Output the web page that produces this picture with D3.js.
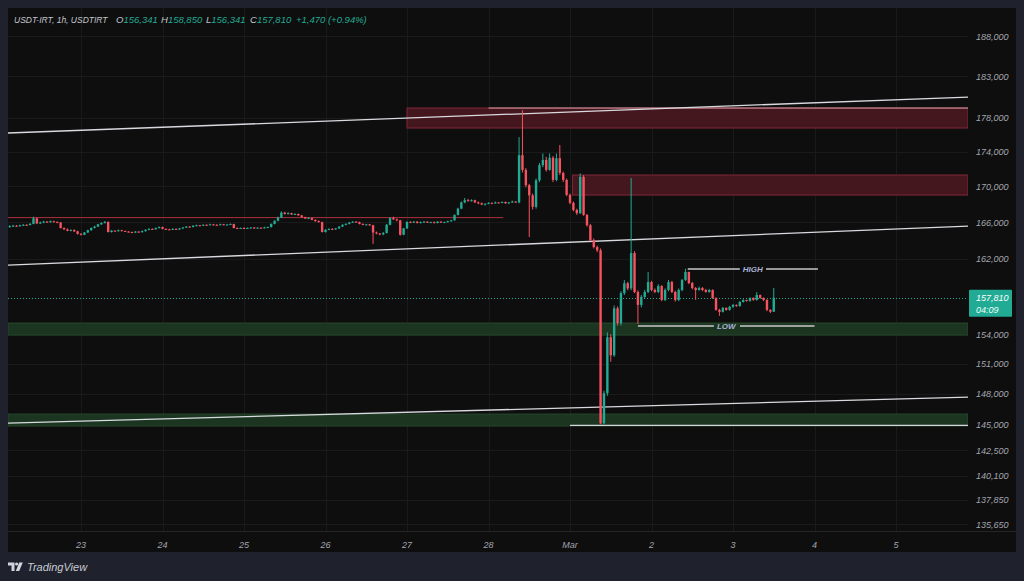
<!DOCTYPE html>
<html><head><meta charset="utf-8">
<script src="https://cdn.jsdelivr.net/npm/d3@7"></script>
<style>
html,body{margin:0;padding:0;background:#1f222c;}
svg{display:block;}
text{font-family:"Liberation Sans",Arial,sans-serif;font-style:italic;}
</style></head><body><svg id="c" width="1024" height="581"></svg>
<script>
// ---------------- DATA ----------------
const symbolTitle = "USDT-IRT, 1h, USDTIRT";
const lastOHLC = {o: "156,341", h: "158,850", l: "156,341", c: "157,810", chg: "+1,470 (+0.94%)"};
const firstCandle = Date.UTC(2025, 1, 22, 3); // hourly candles from here
const viewStart = Date.UTC(2025, 1, 22, 2, 30);
const viewEnd = Date.UTC(2025, 2, 5, 21, 12);
const priceDomain = [135017, 191555];
const priceTicks = [188000,183000,178000,174000,170000,166000,162000,154000,151000,148000,145000,142500,140100,137850,135650];
const dayTicks = ["2025-02-23","2025-02-24","2025-02-25","2025-02-26","2025-02-27","2025-02-28","2025-03-01","2025-03-02","2025-03-03","2025-03-04","2025-03-05"];
const dayLabels = ["23","24","25","26","27","28","Mar","2","3","4","5"];
const lastPrice = 157810;
const countdown = "04:09";

const opens = [165450,165560,165600,165560,165650,165700,165680,165800,166420,165850,
165950,166050,165980,166100,166020,165950,165340,165200,165050,165120,
164980,164700,164600,164850,165100,165350,165500,165750,165900,166020,
164900,165050,165000,165100,165020,164950,164900,164850,164950,164880,
165000,165150,165250,165200,165350,165450,165250,165200,165150,165250,
165180,165300,165400,165500,165450,165600,165650,165600,165700,165680,
165750,165700,165680,165760,165700,165730,165780,165350,165300,165350,
165280,165350,165400,165320,165380,165350,165420,165450,165800,166150,
166500,167050,166900,167000,166850,166900,166750,166550,166400,166450,
166250,166100,166000,164900,165150,165250,165200,165300,165500,165700,
165800,165950,166050,166000,165800,165700,165750,165650,164850,164750,
164650,164800,165700,166450,166300,166200,164600,165300,166000,165950,
166050,165900,166000,166050,165950,166000,165900,166050,165950,166000,
166100,166200,166800,167500,168200,168450,168350,168450,168200,168100,
167950,168050,168150,168100,168200,168150,168250,168100,168200,168300,
168200,173600,171900,170150,169000,167700,170700,172450,173050,171900,
173300,170750,173250,171550,170750,169050,168150,167350,167000,171100,
166800,165650,164000,163250,162900,145100,148050,153700,151850,156700,
155150,158300,159350,158800,162600,158420,157060,157900,158420,159480,
158630,158420,159050,157580,158630,159480,158420,157580,158630,159690,
160550,159370,158840,158630,158840,158630,158420,158630,157790,156535,
156330,156745,156535,156850,157060,156950,157370,157580,157480,157790,
157580,158100,157790,157580,156535,156341];

const highs = [165650,165700,165680,165720,165780,165760,165900,166600,166480,166050,
166150,166120,166180,166160,166080,166000,165420,165300,165200,165200,
165050,164780,164900,165150,165400,165600,165800,165980,166120,166080,
165120,165100,165180,165150,165060,165000,164950,165020,165000,165080,
165200,165320,165300,165400,165520,165500,165300,165250,165320,165300,
165350,165450,165560,165550,165650,165720,165700,165760,165750,165820,
165800,165760,165820,165800,165780,165850,165820,165400,165400,165420,
165400,165450,165450,165420,165420,165480,165500,165850,166200,166600,
167200,167150,167100,167050,166980,166950,166800,166600,166550,166500,
166300,166200,166050,165200,165300,165320,165350,165550,165750,165880,
166000,166100,166120,166050,165850,165800,165800,165700,164950,164800,
164900,165800,166550,166600,166400,166250,165350,166100,166100,166120,
166100,166060,166120,166100,166050,166070,166100,166100,166050,166150,
166250,166850,167600,168300,168700,168600,168550,168500,168300,168200,
168100,168220,168200,168300,168250,168300,168300,168250,168400,168350,
175700,178900,172100,170300,169200,170900,172700,173800,173400,173800,
173500,173800,174780,171700,170900,169200,168300,167500,171500,171300,
166900,165800,164200,163400,163100,148300,154200,154000,157000,156900,
158500,159700,159500,170970,162800,158600,158100,158650,160550,159600,
158800,159250,159150,158800,159700,159600,158550,158800,159800,160900,
160600,159500,158950,159000,158950,158750,158750,158700,157850,156650,
156850,156800,156950,157150,157100,157450,157650,157600,157850,157850,
158400,158150,157850,157650,156600,158850];

const lows = [165380,165480,165500,165500,165600,165600,165620,165750,165780,165800,
165880,165920,165940,165960,165880,165300,165120,164980,164990,164900,
164620,164520,164560,164800,165050,165300,165450,165700,165850,164850,
164850,164950,164950,164980,164900,164850,164780,164800,164820,164850,
164950,165100,165150,165180,165300,165200,165120,165100,165120,165120,
165150,165250,165350,165400,165420,165550,165550,165580,165620,165650,
165650,165620,165650,165650,165660,165700,165300,165250,165240,165220,
165230,165300,165280,165300,165300,165300,165380,165400,165750,166100,
166450,166850,166850,166800,166800,166700,166500,166350,166350,166200,
166050,165950,164850,164850,165100,165150,165150,165250,165450,165650,
165750,165900,165950,165750,165650,165650,165600,163600,164650,164550,
164550,164750,165650,166250,166100,164500,164550,165250,165900,165900,
165850,165850,165950,165900,165900,165850,165850,165900,165900,165950,
166050,166150,166750,167450,168100,168300,168300,168150,168000,167900,
167850,168000,168000,168050,168100,168100,168050,168050,168150,168150,
168100,171600,169900,164350,167400,167500,170500,172200,171700,171800,
170500,170600,171300,170500,168900,168000,167200,166800,166900,166700,
165500,163900,163100,162700,145000,145000,147800,151200,151700,154900,
154900,158100,158600,158600,158300,155080,156800,157700,158300,158500,
158300,158300,157450,157450,158500,158300,157400,157450,158500,159600,
159250,158700,157580,158550,158500,158350,158350,157700,156450,155910,
156250,156450,156450,156750,156850,156850,157300,157400,157400,157500,
157500,157700,157450,156400,156200,156341];

const closes = [165560,165600,165560,165650,165700,165680,165800,166420,165850,165950,
166050,165980,166100,166020,165950,165340,165200,165050,165120,164980,
164700,164600,164850,165100,165350,165500,165750,165900,166020,164900,
165050,165000,165100,165020,164950,164900,164850,164950,164880,165000,
165150,165250,165200,165350,165450,165250,165200,165150,165250,165180,
165300,165400,165500,165450,165600,165650,165600,165700,165680,165750,
165700,165680,165760,165700,165730,165780,165350,165300,165350,165280,
165350,165400,165320,165380,165350,165420,165450,165800,166150,166500,
167050,166900,167000,166850,166900,166750,166550,166400,166450,166250,
166100,166000,164900,165150,165250,165200,165300,165500,165700,165800,
165950,166050,166000,165800,165700,165750,165650,164850,164750,164650,
164800,165700,166450,166300,166200,164600,165300,166000,165950,166050,
165900,166000,166050,165950,166000,165900,166050,165950,166000,166100,
166200,166800,167500,168200,168450,168350,168450,168200,168100,167950,
168050,168150,168100,168200,168150,168250,168100,168200,168300,168200,
173600,171900,170150,169000,167700,170700,172450,173050,171900,173300,
170750,173250,171550,170750,169050,168150,167350,167000,171100,166800,
165650,164000,163250,162900,145100,148050,153700,151850,156700,155150,
158300,159350,158800,162600,158420,157060,157900,158420,159480,158630,
158420,159050,157580,158630,159480,158420,157580,158630,159690,160550,
159370,158840,158630,158840,158630,158420,158630,157790,156535,156330,
156745,156535,156850,157060,156950,157370,157580,157480,157790,157580,
158100,157790,157580,156535,156341,157810];

// drawings (time, price)
const trendLines = [
  {t0: "2025-02-22T02:30Z", p0: 176190, t1: "2025-03-05T21:12Z", p1: 180480},
  {t0: "2025-02-22T02:30Z", p0: 161300, t1: "2025-03-05T21:12Z", p1: 165560},
  {t0: "2025-02-22T02:30Z", p0: 145120, t1: "2025-03-05T21:12Z", p1: 147670}
];
const redZones = [
  {t0: "2025-02-27T00:00Z", t1: "2025-03-05T21:12Z", pTop: 179160, pBot: 176780},
  {t0: "2025-03-01T00:45Z", t1: "2025-03-05T21:12Z", pTop: 171310, pBot: 169030}
];
const greenZones = [
  {t0: "2025-02-22T02:30Z", t1: "2025-03-05T21:12Z", pTop: 155160, pBot: 153920},
  {t0: "2025-02-22T02:30Z", t1: "2025-03-05T21:12Z", pTop: 146000, pBot: 144840}
];
const hLines = [
  {t0: "2025-02-22T02:30Z", t1: "2025-02-28T04:20Z", p: 166500, kind: "red"},
  {t0: "2025-02-28T00:00Z", t1: "2025-03-05T21:12Z", p: 179160, kind: "pink"},
  {t0: "2025-03-01T00:00Z", t1: "2025-03-05T21:12Z", p: 144900, kind: "white"}
];
const labelLines = [
  {label: "HIGH", t0: "2025-03-02T10:40Z", t1: "2025-03-04T01:00Z", p: 160870},
  {label: "LOW", t0: "2025-03-01T20:00Z", t1: "2025-03-04T00:00Z", p: 154850}
];

// ---------------- CHART ----------------
const svg = d3.select("#c");
const L = 8, R = 968, T = 8, B = 531;
const x = d3.scaleUtc().domain([new Date(viewStart), new Date(viewEnd)]).range([L, R]);
const y = d3.scaleLog().domain(priceDomain).range([B, T]);
const up = "#22ab94", dn = "#f7525f";

svg.append("rect").attr("width", 1024).attr("height", 581).attr("fill", "#1f222c");
svg.append("rect").attr("x", L).attr("y", T).attr("width", 1016 - L).attr("height", 552 - T).attr("fill", "#0e0e0e");

svg.append("defs").append("clipPath").attr("id", "pc")
  .append("rect").attr("x", L).attr("y", T).attr("width", R - L).attr("height", B - T);

// grid
const grid = svg.append("g");
grid.selectAll(".hg").data(priceTicks).join("line")
  .attr("x1", L).attr("x2", R).attr("y1", d => Math.round(y(d)) + 0.5).attr("y2", d => Math.round(y(d)) + 0.5)
  .attr("stroke", "#1a1a1a");
const dayDates = dayTicks.map(d => new Date(d + "T00:00Z"));
grid.selectAll(".vg").data(dayDates).join("line")
  .attr("x1", d => Math.round(x(d)) + 0.5).attr("x2", d => Math.round(x(d)) + 0.5).attr("y1", T).attr("y2", B)
  .attr("stroke", "#1a1a1a");
svg.append("line").attr("x1", L).attr("x2", 1016).attr("y1", B + 0.5).attr("y2", B + 0.5).attr("stroke", "#262626");

const plot = svg.append("g").attr("clip-path", "url(#pc)");
const td = s => new Date(s);

// zones
plot.selectAll(".rz").data(redZones).join("rect")
  .attr("x", d => x(td(d.t0))).attr("width", d => x(td(d.t1)) - x(td(d.t0)))
  .attr("y", d => y(d.pTop)).attr("height", d => y(d.pBot) - y(d.pTop))
  .attr("fill", "#43171d").attr("stroke", "#82283a").attr("stroke-width", 1);
plot.selectAll(".gz").data(greenZones).join("rect")
  .attr("x", d => x(td(d.t0))).attr("width", d => x(td(d.t1)) - x(td(d.t0)))
  .attr("y", d => y(d.pTop)).attr("height", d => y(d.pBot) - y(d.pTop))
  .attr("fill", "#1b3520").attr("stroke", "#284a2c").attr("stroke-width", 1);

// horizontal lines
const hColor = {red: "#a8323c", pink: "#d9a0a8", white: "#d1d4dc"};
plot.selectAll(".hl").data(hLines).join("line")
  .attr("x1", d => x(td(d.t0))).attr("x2", d => x(td(d.t1)))
  .attr("y1", d => y(d.p)).attr("y2", d => y(d.p))
  .attr("stroke", d => hColor[d.kind]).attr("stroke-width", d => d.kind === "white" ? 1.4 : 1);

// trend lines
plot.selectAll(".tl").data(trendLines).join("line")
  .attr("x1", d => x(td(d.t0))).attr("x2", d => x(td(d.t1)))
  .attr("y1", d => y(d.p0)).attr("y2", d => y(d.p1))
  .attr("stroke", "#d9dadf").attr("stroke-width", 1.3);

// current price dotted line
plot.append("line").attr("x1", L).attr("x2", R).attr("y1", Math.round(y(lastPrice)) + 0.5).attr("y2", Math.round(y(lastPrice)) + 0.5)
  .attr("stroke", up).attr("stroke-dasharray", "1,2").attr("stroke-width", 1);

// candles
const candles = closes.map((c, i) => ({t: new Date(firstCandle + i * 3600e3), o: opens[i], h: highs[i], l: lows[i], c}));
const cg = plot.append("g");
cg.selectAll(".wk").data(candles).join("line")
  .attr("x1", d => x(d.t)).attr("x2", d => x(d.t))
  .attr("y1", d => y(d.h)).attr("y2", d => y(d.l))
  .attr("stroke", d => d.c >= d.o ? up : dn).attr("stroke-width", 1);
cg.selectAll(".bd").data(candles).join("rect")
  .attr("x", d => x(d.t) - 1.2).attr("width", 2.4)
  .attr("y", d => y(Math.max(d.o, d.c)))
  .attr("height", d => Math.max(1, Math.abs(y(d.o) - y(d.c))))
  .attr("fill", d => d.c >= d.o ? up : dn);

// HIGH / LOW lines with labels
labelLines.forEach(d => {
  const x0 = x(td(d.t0)), x1 = x(td(d.t1)), yy = y(d.p);
  const tx = plot.append("text").text(d.label)
    .attr("x", (x0 + x1) / 2).attr("y", yy + 3)
    .attr("text-anchor", "middle").attr("font-size", 8).attr("font-weight", "bold")
    .attr("fill", "#aab3d6");
  const bb = tx.node().getBBox();
  plot.append("line").attr("x1", x0).attr("x2", bb.x - 3).attr("y1", yy).attr("y2", yy)
    .attr("stroke", "#c9c9c9").attr("stroke-width", 1.5);
  plot.append("line").attr("x1", bb.x + bb.width + 3).attr("x2", x1).attr("y1", yy).attr("y2", yy)
    .attr("stroke", "#c9c9c9").attr("stroke-width", 1.5);
});

// price axis
const pa = svg.append("g");
pa.selectAll("text").data(priceTicks).join("text")
  .attr("x", 976).attr("y", d => y(d) + 3.5)
  .attr("font-size", 9).attr("fill", "#a3a6af")
  .text(d => d3.format(",")(d));
const ly = y(lastPrice);
pa.append("rect").attr("x", 969).attr("y", ly - 8).attr("width", 43).attr("height", 27).attr("rx", 1).attr("fill", up);
pa.append("text").attr("x", 976).attr("y", ly + 3).attr("font-size", 9).attr("fill", "#ffffff").text(d3.format(",")(lastPrice));
pa.append("text").attr("x", 976).attr("y", ly + 15).attr("font-size", 9).attr("fill", "#e8fff9").text(countdown);

// time axis
svg.append("g").selectAll("text").data(dayDates).join("text")
  .attr("x", d => x(d)).attr("y", 548).attr("text-anchor", "middle")
  .attr("font-size", 9).attr("fill", "#a3a6af")
  .text((d, i) => dayLabels[i]);

// legend
const lg = svg.append("g").attr("font-size", 9.5);
lg.append("text").attr("x", 14).attr("y", 23).attr("fill", "#c3c6ce")
  .attr("font-size", 8.5).text(symbolTitle);
const parts = [["O", lastOHLC.o, 116], ["H", lastOHLC.h, 161], ["L", lastOHLC.l, 206], ["C", lastOHLC.c, 250]];
parts.forEach(p => {
  const t = lg.append("text").attr("x", p[2]).attr("y", 23);
  t.append("tspan").attr("fill", "#c3c6ce").text(p[0]);
  t.append("tspan").attr("fill", up).text(p[1]);
});
lg.append("text").attr("x", 296).attr("y", 23).attr("fill", up).text(lastOHLC.chg);

// logo
const lgo = svg.append("g").attr("fill", "#d1d4dc");
lgo.append("path").attr("d", "M8,562.5 h6.5 v8.5 h-3 v-5.5 h-3.5 z");
lgo.append("circle").attr("cx", 16.6).attr("cy", 564).attr("r", 1.6);
lgo.append("path").attr("d", "M19.2,562.5 h3.6 l-3.6,8.5 h-3.4 z");
svg.append("text").attr("x", 27).attr("y", 570.5).attr("font-size", 11).attr("fill", "#c8cbd3").text("TradingView");
</script></body></html>
